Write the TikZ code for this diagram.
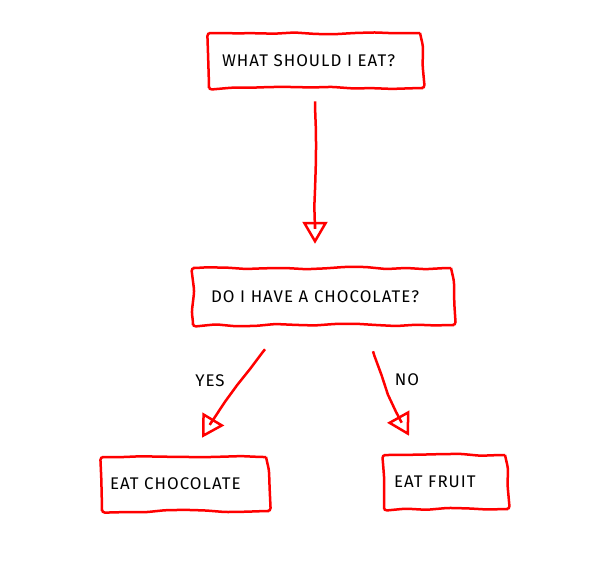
\documentclass[tikz,border=0pt]{standalone}
\usepackage{fontspec}
\setmainfont[LetterSpace=6]{Fira Sans}
\usepackage{tikz}
\usetikzlibrary{positioning,arrows.meta,decorations.pathmorphing,calc}
\definecolor{ink}{HTML}{FF0000}
\tikzset{
  wobble/.style={decorate,decoration={random steps,segment length=4mm,amplitude=0.25mm,
                 pre length=1mm,post length=3mm}},
  box/.style={draw=ink,line width=0.5mm,wobble,rounded corners=0.6mm,fill=white,align=left,
              minimum height=11mm,inner ysep=0pt,font=\fontsize{9.6}{11}\selectfont},
  arr/.style={draw=ink,line width=0.5mm,wobble,
              -{Triangle[open,length=4.4mm,width=5mm,line width=0.5mm]}},
  lbl/.style={font=\fontsize{9.6}{11}\selectfont,inner sep=0pt}
}
\pgfmathsetseed{7}
\begin{document}
\begin{tikzpicture}[x=0.2mm,y=-0.2mm]
  \useasboundingbox (0,0) rectangle (610,566);
  \node[box,inner xsep=2.6mm,text width=37.6mm] (ask) at (316,60.5) {WHAT SHOULD I EAT?};
  \node[box,inner xsep=3.6mm,text width=45mm,minimum height=11.4mm] (choc) at (323.5,296.5) {DO I HAVE A CHOCOLATE?};
  \node[box,inner xsep=1.6mm,text width=30.2mm,minimum height=10.8mm] (eatchoc) at (185.5,484) {EAT CHOCOLATE};
  \node[box,inner xsep=2mm,text width=20.8mm,minimum height=10.8mm] (fruit) at (446,482) {EAT FRUIT};
  \node[lbl] (yes) at (210,381) {YES};
  \node[lbl] (no) at (407,380) {NO};

  % arrows stop short of the boxes
  \draw[arr] ([xshift=-0.2mm,yshift=-2.4mm]ask.south) -- ([xshift=-0.2mm,yshift=4.6mm]ask.south |- choc.north);
  \draw[arr] ([xshift=-11.7mm,yshift=-4.6mm]choc.south) to[bend right=3] ([xshift=3.3mm,yshift=3.6mm]eatchoc.north);
  \draw[arr] ([xshift=9.9mm,yshift=-5mm]choc.south) to[bend right=6] ([xshift=-7.4mm,yshift=3.6mm]fruit.north);
\end{tikzpicture}
\end{document}
